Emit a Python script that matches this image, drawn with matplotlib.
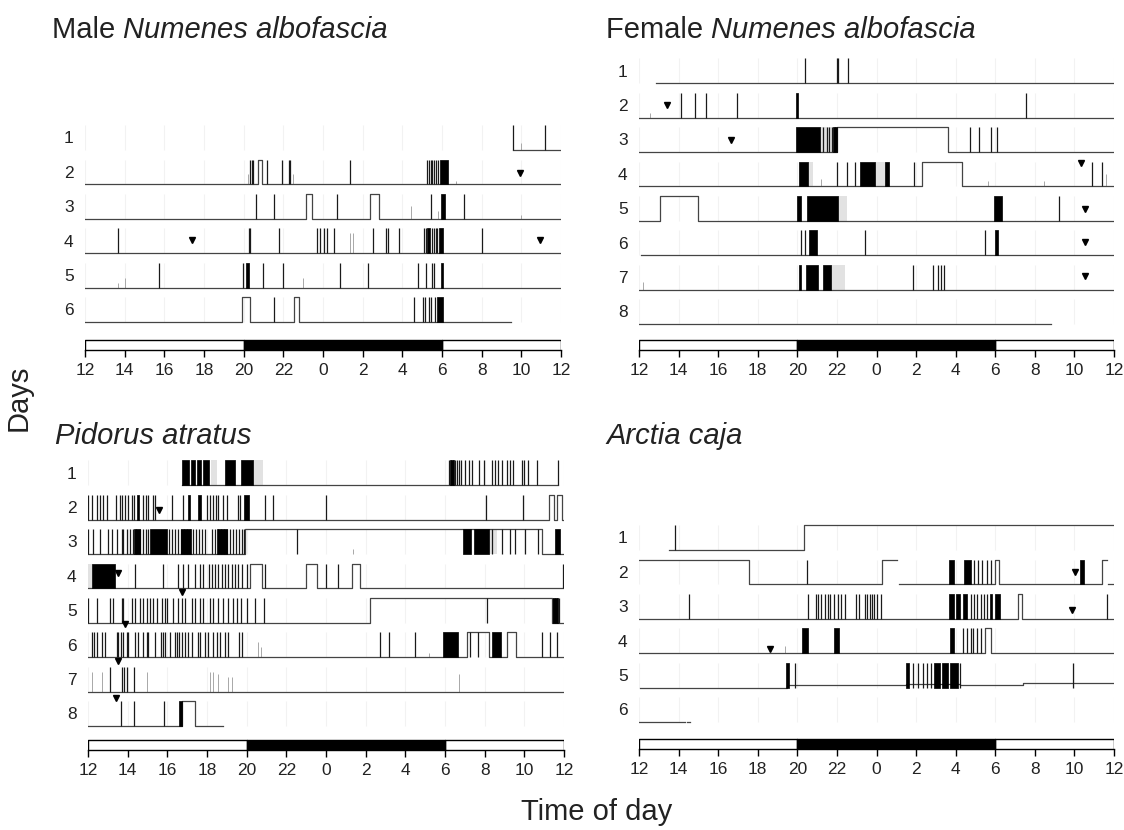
import numpy as np
import matplotlib
matplotlib.use("Agg")
import matplotlib.pyplot as plt

plt.rcParams['font.family'] = ['Liberation Sans', 'DejaVu Sans']

# time axis: hours since 12:00 (noon) -> 0..24
tick_pos = list(range(0, 25, 2))
tick_lab = ['12', '14', '16', '18', '20', '22', '0', '2', '4', '6', '8', '10', '12']
light_periods = [(0, 8), (18, 6)]
dark_periods = [(8, 10)]

# ---------------- Male Numenes albofascia ----------------
male_trace = [
    [(21.6, 24, 0)],
    [(0, 8.72, 0), (8.72, 8.9, 1), (8.9, 24, 0)],
    [(0, 11.16, 0), (11.16, 11.47, 1), (11.47, 14.35, 0), (14.35, 14.83, 1), (14.83, 24, 0)],
    [(0, 24, 0)],
    [(0, 24, 0)],
    [(0, 7.93, 0), (7.93, 8.31, 1), (8.31, 10.55, 0), (10.55, 10.77, 1), (10.77, 21.5, 0)],
]
male_spikes = [
    [21.6, 23.17],
    [8.31, 8.4, 8.48, 9.17, 9.94, 10.28, 10.35, 13.34, 17.25, 17.34, 17.43, 17.52, 17.61, 17.7, 17.8],
    [8.64, 9.54, 12.7, 17.43, 19.12],
    [1.65, 8.28, 8.34, 9.8, 11.7, 11.87, 12.07, 12.2, 12.55, 14.5, 15.2, 15.27, 15.83,
     17.1, 17.18, 17.5, 17.58, 17.68, 17.76, 20.0],
    [3.72, 7.96, 8.95, 10.0, 12.84, 14.26, 16.8, 17.2, 17.48, 17.62],
    [9.54, 16.6, 17.02, 17.12, 17.33, 17.43, 17.65],
]
male_blocks = [[], [(17.9, 18.3)], [(17.93, 18.17)], [(17.25, 17.4), (17.85, 18.05)],
               [(8.12, 8.28), (17.93, 18.07)], [(17.74, 18.04)]]
male_hatch = [[], [], [], [], [], []]
male_faint = [[(21.96, 0.3)], [(8.2, 0.4), (10.5, 0.4), (18.7, 0.15)],
              [(16.42, 0.5), (17.8, 0.3), (22.0, 0.15)], [(13.35, 0.8), (13.5, 0.8)],
              [(1.65, 0.2), (2.0, 0.4), (10.97, 0.4)], []]
male_marks = [[], [(21.93, 0.45)], [], [(5.38, 0.55), (22.95, 0.55)], [], []]

# ---------------- Female Numenes albofascia ----------------
female_trace = [
    [(0.85, 24, 0)],
    [(0, 24, 0)],
    [(0, 10.0, 0), (10.0, 15.62, 1), (15.62, 24, 0)],
    [(0, 14.3, 0), (14.3, 16.32, 1), (16.32, 24, 0)],
    [(0, 1.07, 0), (1.07, 2.98, 1), (2.98, 24, 0)],
    [(0.09, 24, 0)],
    [(0, 24, 0)],
    [(0, 20.82, 0)],
]
female_spikes = [
    [8.39, 9.99, 10.06, 10.58],
    [2.12, 2.85, 3.4, 4.94, 19.55],
    [9.3, 9.5, 9.62, 9.75, 9.9, 16.7, 17.2, 17.8, 18.1],
    [10.02, 10.5, 10.9, 13.9, 22.9, 23.37],
    [21.2],
    [8.2, 8.4, 11.44, 17.46],
    [13.83, 14.83, 15.1, 15.27, 15.43],
    [],
]
female_blocks = [[], [(7.95, 8.05)], [(7.95, 9.15), (9.82, 9.98)],
                 [(8.06, 8.53), (11.17, 11.93), (12.45, 12.65)],
                 [(7.99, 8.2), (8.5, 10.06), (17.92, 18.33)],
                 [(8.6, 8.97), (17.97, 18.15)],
                 [(8.08, 8.2), (8.44, 9.02), (9.3, 9.7)], []]
female_hatch = [[], [], [(9.15, 10.0)], [(8.53, 8.8), (11.93, 12.7)], [(10.06, 10.5)], [],
                [(9.7, 10.4)], []]
female_faint = [[], [(0.58, 0.2)], [], [(9.2, 0.3), (17.65, 0.2), (20.46, 0.2), (23.6, 0.5)],
                [], [], [(0.18, 0.3)], []]
female_marks = [[], [(1.43, 0.5)], [(4.63, 0.48)], [(22.33, 0.95)], [(22.55, 0.47)],
                [(22.55, 0.53)], [(22.55, 0.54)], []]

# ---------------- Pidorus atratus ----------------
pid_trace = [
    [(4.72, 23.7, 0)],
    [(0, 23.25, 0), (23.25, 23.52, 1), (23.52, 23.63, 0), (23.63, 23.88, 1), (23.88, 24, 0)],
    [(0, 7.9, 0), (7.9, 22.87, 1), (22.87, 24, 0)],
    [(0, 8.17, 0), (8.17, 8.76, 1), (8.76, 10.98, 0), (10.98, 11.53, 1), (11.53, 13.3, 0),
     (13.3, 13.7, 1), (13.7, 24, 0)],
    [(0, 14.2, 0), (14.2, 23.4, 1), (23.4, 24, 0)],
    [(0, 19.13, 0), (19.13, 20.23, 1), (20.23, 21.15, 0), (21.15, 21.6, 1), (21.6, 24, 0)],
    [(0, 24, 0)],
    [(0, 4.72, 0), (4.72, 5.4, 1), (5.4, 6.82, 0)],
]
pid_spikes = [
    [18.2, 18.3, 18.4, 18.5, 18.6, 18.7, 18.8, 19.01, 19.23, 19.35, 19.73, 19.99, 20.36, 20.52,
     20.69, 20.86, 21.11, 21.28, 21.45, 21.87, 22.0, 22.2, 22.63, 23.68],
    [0.02, 0.22, 0.44, 0.6, 0.77, 0.94, 1.4, 1.61, 1.73, 1.87, 2.0, 2.2, 2.34, 2.79, 2.91, 3.04,
     3.3, 3.38, 4.25, 4.81, 5.98, 6.15, 6.32, 6.44, 6.57, 6.82, 6.99, 7.58, 7.67, 8.93, 9.35,
     12.0, 20.05, 21.95],
    [0.02, 0.27, 0.6, 1.02, 1.19, 1.45, 1.7, 1.78, 1.95, 2.1, 2.25, 2.4, 2.6, 2.75, 2.9, 3.05,
     4.1, 4.25, 4.4, 4.55, 4.7, 4.85, 5.0, 5.15, 5.3, 5.45, 5.6, 5.75, 5.9, 6.25, 6.4, 6.55,
     6.7, 6.85, 7.0, 7.15, 7.3, 7.45, 7.6, 7.75, 7.88, 10.52, 20.36, 20.86, 21.28, 21.53,
     22.03, 22.71],
    [2.37, 3.8, 4.55, 4.81, 5.06, 5.4, 5.65, 5.82, 6.1, 6.24, 6.4, 6.57, 6.74, 6.9, 7.08, 7.24,
     7.41, 7.58, 7.75, 8.0, 8.92, 12.0, 12.6, 23.95],
    [0.02, 0.44, 1.11, 1.28, 1.7, 1.78, 2.2, 2.37, 2.62, 2.79, 2.96, 3.13, 3.3, 3.46, 3.72,
     3.88, 3.97, 4.3, 4.55, 4.72, 4.89, 5.23, 5.4, 5.65, 5.82, 6.15, 6.32, 6.57, 6.82, 7.08,
     7.33, 7.5, 7.72, 8.0, 8.42, 8.89, 20.1, 23.45, 23.55, 23.65, 23.75],
    [0.19, 0.32, 0.44, 0.69, 0.86, 1.45, 1.53, 1.66, 1.78, 1.95, 2.03, 2.37, 2.54, 2.79, 2.96,
     3.04, 3.38, 3.68, 3.8, 3.88, 4.13, 4.39, 4.47, 4.61, 4.72, 4.89, 5.06, 5.23, 5.53, 5.65,
     5.9, 6.07, 6.32, 6.49, 6.66, 6.91, 7.08, 7.62, 7.75, 14.73, 15.19, 16.47, 19.28, 19.68,
     22.9, 23.3, 23.63],
    [1.11, 1.7, 1.83, 1.95, 2.34],
    [1.66, 2.34, 3.85],
]
pid_blocks = [
    [(4.72, 5.07), (5.2, 5.4), (5.48, 5.7), (5.82, 6.1), (6.9, 7.4), (7.7, 8.3), (18.25, 18.45)],
    [(2.45, 2.55), (5.02, 5.12), (5.55, 5.72), (7.85, 8.1)],
    [(2.3, 2.6), (3.13, 3.97), (4.7, 5.2), (6.5, 7.0), (18.9, 19.3), (19.45, 20.2), (23.54, 23.8)],
    [(0.19, 1.36)],
    [(23.45, 23.7)],
    [(17.9, 18.67), (20.35, 20.8)],
    [],
    [(4.59, 4.72)],
]
pid_hatch = [[(6.2, 6.5), (8.3, 8.8)], [], [(20.2, 20.6)], [(0.02, 0.19)], [], [], [], []]
pid_faint = [[], [], [(13.38, 0.2)], [], [], [(8.55, 0.6), (8.7, 0.4), (17.2, 0.15)],
             [(0.19, 0.8), (0.69, 0.8), (2.96, 0.8), (6.15, 0.8), (6.32, 0.8), (6.57, 0.7),
              (7.08, 0.6), (7.24, 0.6), (18.7, 0.7)], []]
pid_marks = [[], [(3.58, 0.4)], [], [(1.53, 0.64)], [(4.72, 1.25)], [(1.87, 1.35)],
             [(1.53, 1.22)], [(1.4, 1.12)]]

# ---------------- Arctia caja ----------------
arc_trace = [
    [(1.51, 8.36, 0), (8.36, 24, 1)],
    [(0, 5.58, 1), (5.58, 12.27, 0), (12.27, 13.04, 1), None, (13.12, 18.0, 0), (18.0, 18.18, 1),
     (18.18, 23.4, 0), (23.4, 23.67, 1), None, (23.72, 23.95, 0)],
    [(0, 19.13, 0), (19.13, 19.36, 1), (19.36, 24, 0)],
    [(0, 17.5, 0), (17.5, 17.8, 1), (17.8, 24, 0)],
    [(0.04, 7.5, 0), (7.5, 13.5, 0.1), (13.5, 16.2, 0.15), (16.2, 19.4, 0.1), (19.4, 24, 0.17)],
    [(0, 2.3, 0), None, (2.4, 2.58, 0)],
]
arc_spikes = [
    [1.8],
    [8.5, 16.95, 17.13, 17.35, 17.58, 17.76],
    [2.53, 8.55, 8.95, 9.05, 9.22, 9.4, 9.53, 9.67, 9.85, 10.04, 10.22, 10.4, 10.98, 11.13,
     11.4, 11.53, 11.67, 11.78, 11.89, 12.04, 12.22, 16.75, 16.95, 17.1, 17.3, 17.45, 17.6, 23.64],
    [16.36, 16.55, 16.75, 16.9, 17.1, 17.3],
    [7.9, 13.85, 14.1, 14.35, 14.55, 14.75, 16.2, 21.95],
    [],
]
arc_blocks = [[], [(15.67, 15.9), (16.4, 16.76), (22.3, 22.5)],
              [(15.64, 15.9), (16.0, 16.2), (16.36, 16.55), (17.72, 17.85), (18.0, 18.22)],
              [(8.25, 8.55), (9.85, 10.1), (15.7, 15.9)],
              [(7.45, 7.56), (13.5, 13.65), (14.9, 15.2), (15.3, 15.6), (15.7, 16.1)], []]
arc_hatch = [[], [], [], [], [], []]
arc_faint = [[], [], [], [(7.4, 0.3)], [], []]
arc_marks = [[], [(22.04, 0.5)], [(21.9, 0.37)], [(6.62, 0.15)], [], []]

W, H = 1124, 830
ROW = 34.4   # pixels between rows
AMP = 0.72   # trace height in row units
INK = '#222222'

fig = plt.figure(figsize=(W / 100, H / 100), dpi=100)


def draw_panel(left, right, bar_bottom, row8, trace, spikes, blocks, hatch, faint, marks):
    top_px = row8 - 7.85 * ROW
    ax = fig.add_axes([left / W, 1 - bar_bottom / H, (right - left) / W, (bar_bottom - top_px) / H])
    yb = -8 - (bar_bottom - row8) / ROW
    hb = 10 / ROW
    ax.set_xlim(0, 24)
    ax.set_ylim(yb, -0.15)
    n = len(trace)
    off = 8 - n
    for i in range(n):
        y0 = -(i + 1 + off)
        ax.vlines(tick_pos, y0, y0 + AMP, color='#f2f2f2', lw=0.8, zorder=0)
        xs, ys = [], []
        for s in trace[i]:
            if s is None:
                xs.append(np.nan)
                ys.append(np.nan)
                continue
            xs += [s[0], s[1]]
            ys += [y0 + s[2] * AMP, y0 + s[2] * AMP]
        ax.plot(xs, ys, color='#444444', lw=0.9, zorder=2)
        if spikes[i]:
            ax.vlines(spikes[i], y0, y0 + AMP, color='#1a1a1a', lw=0.9, zorder=3)
        if faint[i]:
            ft = [f[0] for f in faint[i]]
            fh = [y0 + f[1] * AMP for f in faint[i]]
            ax.vlines(ft, y0, fh, color='#a8a8a8', lw=0.7, zorder=1)
        if hatch[i]:
            ax.broken_barh([(a, b - a) for a, b in hatch[i]], (y0, AMP),
                           facecolors='#e2e2e2', edgecolors='none', zorder=1)
        if blocks[i]:
            ax.broken_barh([(a, b - a) for a, b in blocks[i]], (y0, AMP),
                           facecolors='black', edgecolors='black', lw=0.5, zorder=4)
        for t, f in marks[i]:
            ax.plot(t, y0 + f * AMP, marker='v', color='black', ms=5, ls='none', zorder=5)
        ax.text(-0.82, y0 + 0.32, str(i + 1), ha='center', va='center', fontsize=12.5,
                color=INK, clip_on=False)
    ax.broken_barh(light_periods, (yb, hb), facecolors='white', edgecolors='black', lw=1, zorder=5)
    ax.broken_barh(dark_periods, (yb, hb), facecolors='black', edgecolors='black', lw=1, zorder=5)
    for sp in ['left', 'right', 'top']:
        ax.spines[sp].set_visible(False)
    ax.spines['bottom'].set_linewidth(1)
    ax.set_yticks([])
    ax.set_xticks(tick_pos)
    ax.set_xticklabels(tick_lab)
    ax.tick_params(axis='x', direction='out', length=5, width=1, pad=4, labelsize=12.5,
                   labelcolor=INK)
    return ax


draw_panel(85, 561, 350, 322, male_trace, male_spikes, male_blocks, male_hatch, male_faint, male_marks)
draw_panel(639, 1114, 350, 324, female_trace, female_spikes, female_blocks, female_hatch, female_faint,
           female_marks)
draw_panel(88, 564, 750, 726, pid_trace, pid_spikes, pid_blocks, pid_hatch, pid_faint, pid_marks)
draw_panel(639, 1114, 749, 722, arc_trace, arc_spikes, arc_blocks, arc_hatch, arc_faint, arc_marks)

# titles
ts = 21
t1 = fig.text(52 / W, 1 - 38 / H, 'Male ', fontsize=ts, va='baseline', ha='left', color=INK)
fig.add_artist(plt.Annotation('Numenes albofascia', xy=(1, 0), xycoords=t1, va='bottom', ha='left',
                              fontsize=ts, style='italic', color=INK, annotation_clip=False))
t2 = fig.text(606 / W, 1 - 38 / H, 'Female ', fontsize=ts, va='baseline', ha='left', color=INK)
fig.add_artist(plt.Annotation('Numenes albofascia', xy=(1, 0), xycoords=t2, va='bottom', ha='left',
                              fontsize=ts, style='italic', color=INK, annotation_clip=False))
fig.text(55 / W, 1 - 444 / H, 'Pidorus atratus', fontsize=ts, style='italic', va='baseline',
         ha='left', color=INK)
fig.text(606 / W, 1 - 444 / H, 'Arctia caja', fontsize=ts, style='italic', va='baseline',
         ha='left', color=INK)

fig.text(19 / W, 1 - 398 / H, 'Days', fontsize=ts, rotation=90, va='center', ha='center', color=INK)
fig.text(597 / W, 1 - 820 / H, 'Time of day', fontsize=ts, va='baseline', ha='center', color=INK)

fig.savefig('out.png', dpi=100)
